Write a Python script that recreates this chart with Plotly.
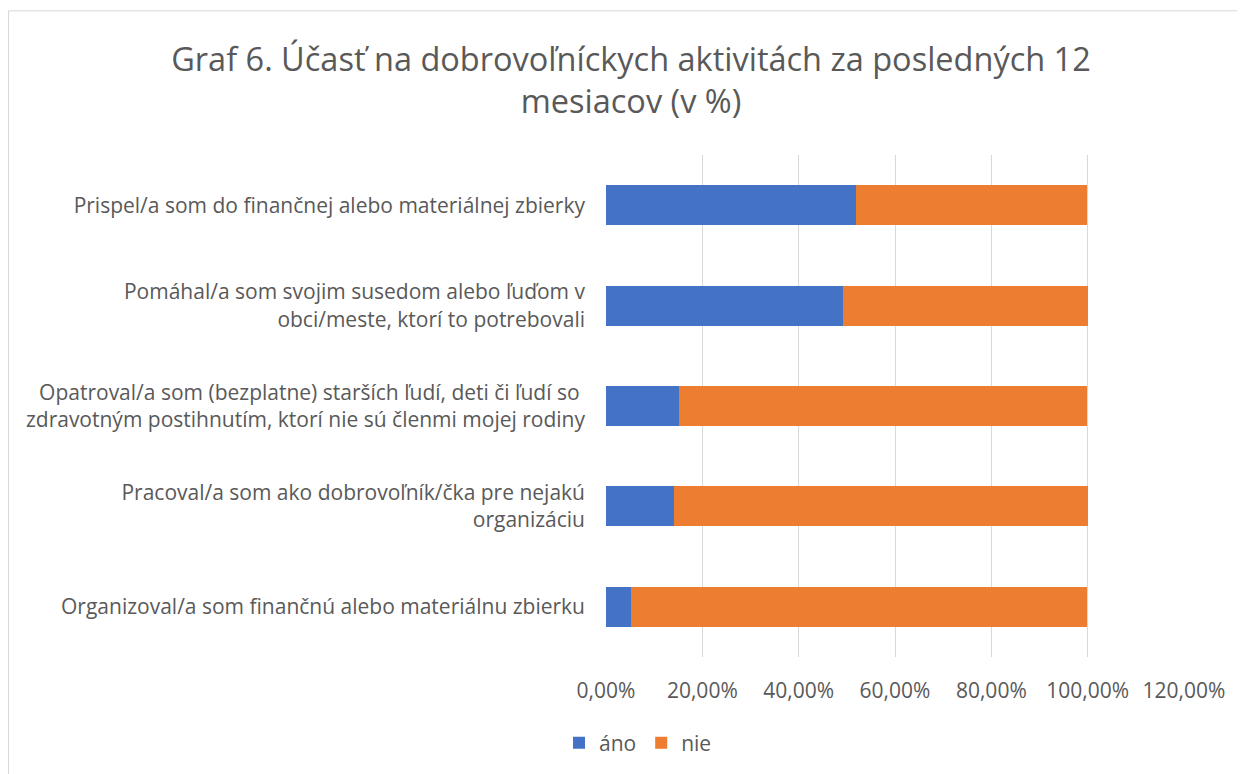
import plotly.graph_objects as go

categories = [
    "Prispel/a som do finančnej alebo materiálnej zbierky",
    "Pomáhal/a som svojim susedom alebo ľuďom v<br>obci/meste, ktorí to potrebovali",
    "Opatroval/a som (bezplatne) starších ľudí, deti či ľudí so <br>zdravotným postihnutím, ktorí nie sú členmi mojej rodiny",
    "Pracoval/a som ako dobrovoľník/čka pre nejakú<br>organizáciu",
    "Organizoval/a som finančnú alebo materiálnu zbierku",
]
ano = [52.0, 49.3, 15.1, 14.1, 5.1]
nie = [47.8, 50.7, 84.7, 85.9, 94.7]
tick_vals = [0, 20, 40, 60, 80, 100, 120]
tick_text = ["0,00%", "20,00%", "40,00%", "60,00%", "80,00%", "100,00%", "120,00%"]

FONT = "Open Sans"
GREY = "#595959"

fig = go.Figure()
fig.add_trace(go.Bar(y=categories, x=ano, name="áno", orientation="h",
                     marker=dict(color="#4472C4", line=dict(width=0))))
fig.add_trace(go.Bar(y=categories, x=nie, name="nie", orientation="h",
                     marker=dict(color="#ED7D31", line=dict(width=0))))

# page has an 8px body margin; figure occupies page (8..1245, 8..774)
OFF = 8
W, H = 1245 - OFF, 774 - OFF
L, R, T, B = 606 - OFF, 1245 - 1184, 155 - OFF, 774 - 658
pw, ph = W - L - R, H - T - B

def px(xpage):
    return (xpage - OFF - L) / pw

def py(ypage):
    return (H - B - (ypage - OFF)) / ph

fig.update_layout(
    width=W, height=H,
    barmode="stack", bargap=0.6,
    margin=dict(l=L, r=R, t=T, b=B),
    paper_bgcolor="white", plot_bgcolor="white",
    font=dict(family=FONT, color=GREY, size=21),
    title=dict(text="Graf 6. Účasť na dobrovoľníckych aktivitách za posledných 12<br>mesiacov (v %)",
               x=(631 - OFF) / W, xanchor="center", y=1 - (71 - OFF) / H, yanchor="top",
               font=dict(family=FONT, size=32.5, color=GREY)),
    xaxis=dict(range=[0, 120], tickvals=tick_vals, ticktext=tick_text,
               showgrid=True, gridcolor="#d9d9d9", gridwidth=1,
               zeroline=False, showline=False, ticks="",
               ticklabelstandoff=19, tickfont=dict(size=21, color=GREY)),
    yaxis=dict(autorange="reversed", showgrid=False, showline=False, ticks="",
               ticklabelstandoff=20, tickfont=dict(size=21, color=GREY)),
    legend=dict(orientation="h", x=px(559), xanchor="left",
                y=py(743), yanchor="middle", itemwidth=30,
                font=dict(size=21, color=GREY), traceorder="normal"),
    showlegend=True,
    shapes=[dict(type="rect", xref="paper", yref="paper",
                 x0=px(8.5), x1=px(1260),
                 y0=py(790), y1=py(10.5),
                 line=dict(color="#d9d9d9", width=1), fillcolor="rgba(0,0,0,0)",
                 layer="below")],
)

fig.write_html("out.html")
